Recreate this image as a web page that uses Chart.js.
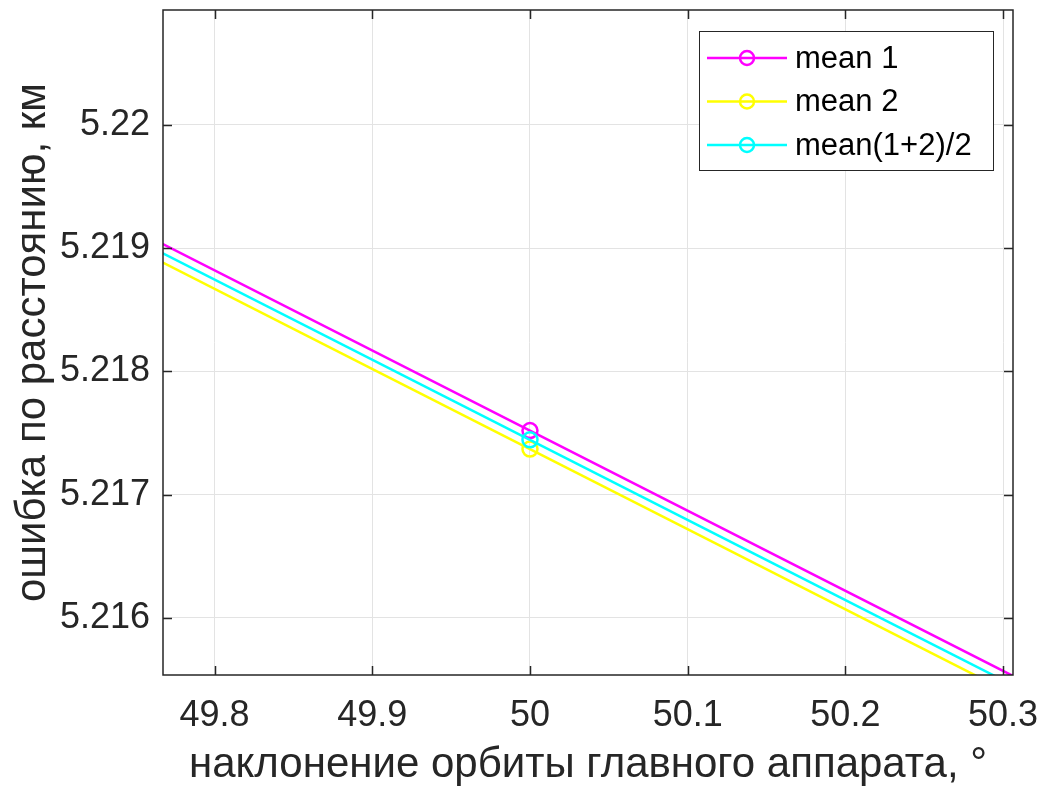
<!DOCTYPE html>
<html>
<head>
<meta charset="utf-8">
<script src="https://cdn.jsdelivr.net/npm/chart.js@4"></script>
<style>
  body { margin: 0; background: #fff; }
  #wrap { width: 1045px; height: 790px; }
</style>
</head>
<body>
<div id="wrap"><canvas id="errChart" width="1045" height="790"></canvas></div>
<script>
// data
const inclination = [49.5, 50, 50.5];
const mean1 = [5.22077, 5.21752, 5.21427];
const mean2 = [5.22062, 5.21737, 5.21412];
const meanAvg = [5.220695, 5.217445, 5.214195];
const seriesNames = ["mean 1", "mean 2", "mean(1+2)/2"];
const seriesColors = ["#ff00ff", "#ffff00", "#00ffff"];
const xTicks = [49.8, 49.9, 50, 50.1, 50.2, 50.3];
const yTicks = [5.216, 5.217, 5.218, 5.219, 5.22];

const ink = "#262626";
const tickFont = { family: "'Liberation Sans', Arial, sans-serif", size: 36 };
const titleFont = { family: "'Liberation Sans', Arial, sans-serif", size: 42, lineHeight: 1 };

function toPoints(ys) {
  return inclination.map((x, i) => ({ x: x, y: ys[i] }));
}

// box, inward ticks and legend like matlab
const matlabBox = {
  id: "matlabBox",
  afterDraw(chart) {
    const { ctx, chartArea: a, scales } = chart;
    ctx.save();
    ctx.strokeStyle = ink;
    ctx.lineWidth = 1.5;
    ctx.strokeRect(a.left, a.top, a.right - a.left, a.bottom - a.top);
    ctx.beginPath();
    xTicks.forEach((v) => {
      const px = Math.round(scales.x.getPixelForValue(v)) + 0.5;
      ctx.moveTo(px, a.bottom); ctx.lineTo(px, a.bottom - 9);
      ctx.moveTo(px, a.top); ctx.lineTo(px, a.top + 9);
    });
    yTicks.forEach((v) => {
      const py = Math.round(scales.y.getPixelForValue(v)) + 0.5;
      ctx.moveTo(a.left, py); ctx.lineTo(a.left + 9, py);
      ctx.moveTo(a.right, py); ctx.lineTo(a.right - 9, py);
    });
    ctx.stroke();

    // legend
    const lx = 699, ly = 31, lw = 294, lh = 139;
    ctx.fillStyle = "#fff";
    ctx.fillRect(lx, ly, lw, lh);
    ctx.lineWidth = 1;
    ctx.strokeRect(lx + 0.5, ly + 0.5, lw, lh);
    ctx.font = "31px 'Liberation Sans', Arial, sans-serif";
    ctx.textBaseline = "middle";
    chart.data.datasets.forEach((ds, i) => {
      const y = ly + 27 + i * 43.5;
      ctx.strokeStyle = ds.borderColor;
      ctx.lineWidth = 2.5;
      ctx.beginPath();
      ctx.moveTo(lx + 8, y); ctx.lineTo(lx + 88, y);
      ctx.stroke();
      ctx.beginPath();
      ctx.arc(lx + 48, y, 7, 0, Math.PI * 2);
      ctx.stroke();
      ctx.fillStyle = "#000";
      ctx.fillText(ds.label, lx + 96, y + 1);
    });
    ctx.restore();
  }
};

const datasets = [mean1, mean2, meanAvg].map((ys, i) => ({
  label: seriesNames[i],
  data: toPoints(ys),
  borderColor: seriesColors[i],
  backgroundColor: "rgba(0,0,0,0)",
  borderWidth: 2.5,
  pointRadius: 7.5,
  pointBorderWidth: 2.5,
  pointBackgroundColor: "rgba(0,0,0,0)",
  pointBorderColor: seriesColors[i],
  order: 3 - i,
  tension: 0
}));

new Chart(document.getElementById("errChart"), {
  type: "line",
  data: { datasets: datasets },
  options: {
    responsive: false,
    animation: false,
    layout: { padding: { top: 10, right: 32, left: 0, bottom: 0 } },
    plugins: { legend: { display: false }, tooltip: { enabled: false } },
    scales: {
      x: {
        type: "linear",
        min: 49.7673,
        max: 50.3063,
        afterBuildTicks: (s) => { s.ticks = xTicks.map((v) => ({ value: v })); },
        afterFit: (s) => { s.height = 115; s.paddingLeft = 0; s.paddingRight = 0; },
        grid: { color: "#e3e3e3", lineWidth: 1, drawTicks: false },
        border: { display: false },
        ticks: { font: tickFont, color: ink, padding: 19, maxRotation: 0, callback: (v) => String(v) },
        title: { display: true, text: "наклонение орбиты главного аппарата, °", font: titleFont, color: ink, padding: { top: 0, bottom: 4 } }
      },
      y: {
        type: "linear",
        min: 5.215537,
        max: 5.220933,
        afterBuildTicks: (s) => { s.ticks = yTicks.map((v) => ({ value: v })); },
        afterFit: (s) => { s.width = 163; s.paddingTop = 0; s.paddingBottom = 0; },
        grid: { color: "#e3e3e3", lineWidth: 1, drawTicks: false },
        border: { display: false },
        ticks: { font: tickFont, color: ink, padding: 13, callback: (v) => String(v) },
        title: { display: true, text: "ошибка по расстоянию, км", font: titleFont, color: ink, padding: { top: 12, bottom: 0 } }
      }
    }
  },
  plugins: [matlabBox]
});
</script>
</body>
</html>
